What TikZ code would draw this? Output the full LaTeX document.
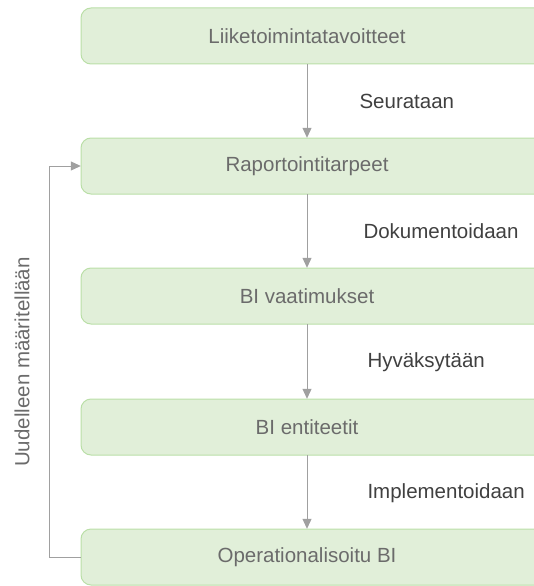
\documentclass[tikz,border=0pt]{standalone}
\usepackage{fontspec}
\setmainfont{Liberation Sans}
\usepackage{xcolor}
\usetikzlibrary{arrows.meta}
\definecolor{boxfill}{HTML}{E1EFD9}
\definecolor{boxline}{HTML}{BADFA7}
\definecolor{boxtext}{HTML}{6B6B6B}
\definecolor{linegray}{HTML}{A0A0A0}

\begin{document}
\begin{tikzpicture}[x=1pt, y=-1pt,
    block/.style={minimum width=452pt, minimum height=56pt, inner sep=0pt, text=boxtext, font=\fontsize{20.5}{24}\selectfont},
    shape box/.style={draw=boxline, fill=boxfill, line width=1pt, rounded corners=10pt},
    lbl/.style={anchor=west, text=black!75, font=\fontsize{20.5}{24}\selectfont},
    arrow/.style={-{Triangle[width=9pt,length=10pt]}, line width=1pt, color=linegray}
]
\useasboundingbox (0,0) rectangle (533,586);
% boxes run off the right edge
\foreach \y in {36,166,296,427,557}
  \draw[shape box] (81,\y-28) rectangle (560,\y+28);
\node[block] (goals) at (307,36) {Liiketoimintatavoitteet};
\node[block] (needs) at (307,166) {Raportointitarpeet};
\node[block] (reqs) at (307,296) {BI vaatimukset};
\node[block] (ents) at (307,427) {BI entiteetit};
\node[block] (opbi) at (307,557) {Operationalisoitu BI};

\draw[arrow] (goals) -- (needs);
\draw[arrow] (needs) -- (reqs);
\draw[arrow] (reqs) -- (ents);
\draw[arrow] (ents) -- (opbi);
\draw[arrow] (opbi.west) -- ++(-31,0) |- (needs.west);

\node[lbl] (l1) at (356,101) {Seurataan};
\node[lbl] (l2) at (360,231) {Dokumentoidaan};
\node[lbl] (l3) at (364,362) {Hyväksytään};
\node[lbl] (l4) at (364,493) {Implementoidaan};
\node[lbl, anchor=center, rotate=90, text=boxtext] (l5) at (22,362) {Uudelleen määritellään};
\end{tikzpicture}
\end{document}
